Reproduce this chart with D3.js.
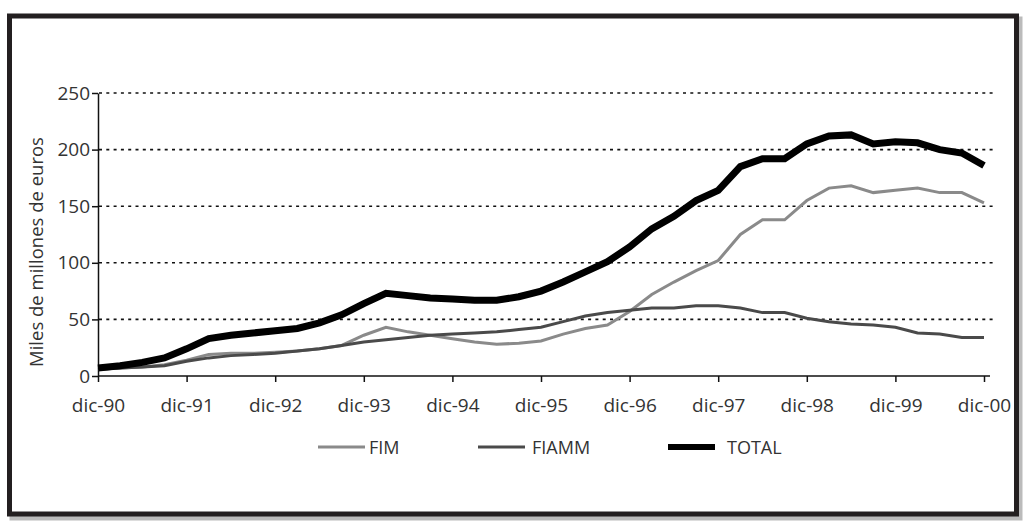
<!DOCTYPE html>
<html><head><meta charset="utf-8">
<script src="https://cdn.jsdelivr.net/npm/d3@7"></script>
<style>
html,body{margin:0;padding:0;background:#fff;}
svg{display:block;}
text{font-family:"Open Sans","Lato",sans-serif;fill:#333;}
</style></head>
<body>
<svg id="c" width="1023" height="521"></svg>
<script>
const tickLabels = ["dic-90","dic-91","dic-92","dic-93","dic-94","dic-95","dic-96","dic-97","dic-98","dic-99","dic-00"];
const yTicks = [0,50,100,150,200,250];
const fim = [6,7,8,10,14,19,20,20,21,22,24,27,36,43,39,36,33,30,28,29,31,37,42,45,57,72,83,93,102,125,138,138,155,166,168,162,164,166,162,162,153];
const fiamm = [6,7,8,9,13,16,18,19,20,22,24,27,30,32,34,36,37,38,39,41,43,48,53,56,58,60,60,62,62,60,56,56,51,48,46,45,43,38,37,34,34];
const total = [7,9,12,16,24,33,36,38,40,42,47,54,64,73,71,69,68,67,67,70,75,83,92,101,114,130,141,155,164,185,192,192,205,212,213,205,207,206,200,197,186];
const seriesNames = ["FIM","FIAMM","TOTAL"];

const svg = d3.select("#c");
// frame with shadow
svg.append("rect").attr("x",12).attr("y",19).attr("width",1008).attr("height",499).attr("fill","none").attr("stroke","#bbb").attr("stroke-width",5);
svg.append("rect").attr("x",9.5).attr("y",16).attr("width",1007).attr("height",498).attr("fill","#fff").attr("stroke","#231f20").attr("stroke-width",5);

const x = d3.scaleLinear().domain([0,40]).range([98,984]);
const y = d3.scaleLinear().domain([0,250]).range([376,93]);

// gridlines
svg.append("g").selectAll("line").data(yTicks.filter(d=>d>0)).join("line")
  .attr("x1",99).attr("x2",996).attr("y1",d=>y(d)).attr("y2",d=>y(d))
  .attr("stroke","#111").attr("stroke-width",1.6).attr("stroke-dasharray","3,4.3");

// y axis
const ya = svg.append("g").attr("transform","translate(98,0)")
  .call(d3.axisLeft(y).tickValues(yTicks).tickSize(6).tickPadding(2).tickSizeOuter(0));
ya.select(".domain").attr("stroke","#111").attr("stroke-width",1.5);
ya.selectAll(".tick line").attr("stroke","#111").attr("stroke-width",1.5);
ya.selectAll("text").style("font-size","19px").attr("fill","#333").attr("font-family","Open Sans");

// x axis
const xa = svg.append("g").attr("transform","translate(0,376)")
  .call(d3.axisBottom(x).tickValues(d3.range(0,41,4)).tickFormat((d,i)=>tickLabels[i]).tickSize(6).tickPadding(17).tickSizeOuter(0));
xa.select(".domain").attr("stroke","#111").attr("stroke-width",1.5).attr("d","M98,0H990");
xa.selectAll(".tick line").attr("stroke","#111").attr("stroke-width",1.5);
xa.selectAll("text").style("font-size","19px").attr("fill","#333").attr("font-family","Open Sans");

// y label
svg.append("text").attr("transform","translate(43,252) rotate(-90)").attr("text-anchor","middle")
  .style("font-size","18.5px").text("Miles de millones de euros");

const line = d3.line().x((d,i)=>x(i)).y(d=>y(d));
const styles = [
  {data:fim, color:"#8a8a8a", w:3},
  {data:fiamm, color:"#4a4a4a", w:3},
  {data:total, color:"#000", w:7}
];
styles.forEach(s=>{
  svg.append("path").datum(s.data).attr("d",line).attr("fill","none")
    .attr("stroke",s.color).attr("stroke-width",s.w).attr("stroke-linejoin","miter");
});

// legend
const legX = [318,478,668];
const legTX = [369,532,727];
seriesNames.forEach((n,i)=>{
  svg.append("line").attr("x1",legX[i]).attr("x2",legX[i]+47).attr("y1",447).attr("y2",447)
    .attr("stroke",styles[i].color).attr("stroke-width",i===2?6:3);
  svg.append("text").attr("x",legTX[i]).attr("y",454).style("font-size","18px").text(n);
});
</script>
</body></html>
